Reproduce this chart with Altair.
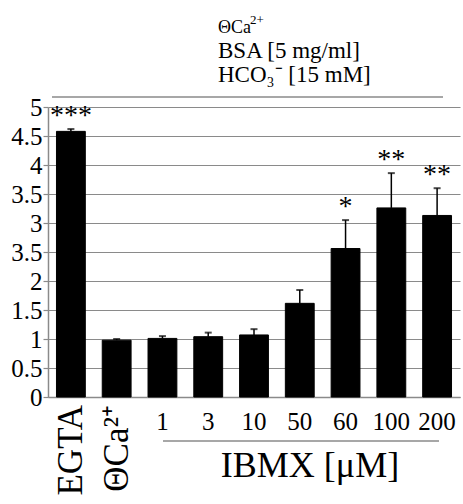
import altair as alt
import pandas as pd

categories = ["EGTA", "ΘCa²⁺", "1", "3", "10", "50", "60", "100", "200"]
means = [4.58, 0.98, 1.01, 1.04, 1.07, 1.615, 2.56, 3.26, 3.13]
err_hi = [4.62, 1.00, 1.05, 1.11, 1.17, 1.845, 3.05, 3.86, 3.60]
stars = ["***", "", "", "", "", "", "*", "**", "**"]
rotated = [True, True, False, False, False, False, False, False, False]
y_ticks = [0, 0.5, 1, 1.5, 2, 2.5, 3, 3.5, 4, 4.5, 5]
cond_lines = ["ΘCa", "BSA [5 mg/ml]", "HCO₃⁻ [15 mM]"]
cond_sup = ["2+"]
x_title = "IBMX [μM]"

FONT = "Liberation Serif, Times New Roman, serif"
GRAY = "#8a8a8a"
H = 290

df = pd.DataFrame({"cat": categories, "mean": means, "hi": err_hi,
                   "star": stars, "rot": rotated})

x_axis = alt.Axis(labels=False, ticks=False, title=None,
                  domainColor=GRAY, domainWidth=1.5)
x_scale = alt.Scale(domain=categories, paddingInner=0.37, paddingOuter=0.185)
y_axis = alt.Axis(values=y_ticks, title=None, grid=True,
                  gridColor=GRAY, gridWidth=1.2,
                  domainColor=GRAY, domainWidth=1.5,
                  tickColor=GRAY, tickSize=5, tickWidth=1.2,
                  labelFont=FONT, labelFontSize=25, labelColor="black",
                  labelPadding=1, format="",
                  labelExpr="datum.value == 2.5 ? '3.5' : datum.label")
y_scale = alt.Scale(domain=[0, 5], nice=False)


def X():
    return alt.X("cat:N", sort=categories, scale=x_scale, axis=x_axis)


def Y(field):
    return alt.Y(field, type="quantitative", scale=y_scale, axis=y_axis)


base = alt.Chart(df)

bars = base.mark_bar(color="black", stroke="black", strokeWidth=1).encode(x=X(), y=Y("mean"))
err = base.mark_rule(color="black", strokeWidth=1.5).encode(x=X(), y=Y("mean"), y2="hi:Q")
caps = base.mark_tick(color="black", size=7, thickness=2).encode(x=X(), y=Y("hi"))
star_txt = base.mark_text(font=FONT, fontSize=28, dy=-5, baseline="alphabetic",
                          color="black").encode(x=X(), y=Y("hi"), text="star:N")

hlabels = base.transform_filter("!datum.rot").mark_text(
    font=FONT, fontSize=25, baseline="alphabetic", color="black"
).encode(x=X(), y=alt.value(H + 33), text="cat:N")

rlabels = base.transform_filter("datum.rot").mark_text(
    font=FONT, fontSize=35, angle=270, align="right", baseline="middle", color="black"
).encode(x=X(), y=alt.value(H + 8), text="cat:N")

cond_df = pd.DataFrame({"t": cond_lines, "i": [0, 1, 2]})
cond1 = alt.Chart(cond_df).transform_filter("datum.i == 0").mark_text(
    font=FONT, fontSize=18, align="left", baseline="alphabetic", color="black"
).encode(x=alt.value(170), y=alt.value(-74), text="t:N")
sup_df = pd.DataFrame({"t": cond_sup})
cond1_sup = alt.Chart(sup_df).mark_text(
    font=FONT, fontSize=13, align="left", baseline="alphabetic", color="black"
).encode(x=alt.value(202), y=alt.value(-83), text="t:N")
cond2 = alt.Chart(cond_df).transform_filter("datum.i == 1").mark_text(
    font=FONT, fontSize=23, align="left", baseline="alphabetic", color="black"
).encode(x=alt.value(170), y=alt.value(-49), text="t:N")
cond3 = alt.Chart(cond_df).transform_filter("datum.i == 2").mark_text(
    font=FONT, fontSize=23, align="left", baseline="alphabetic", color="black"
).encode(x=alt.value(170), y=alt.value(-25), text="t:N")

top_rule = alt.Chart(cond_df).transform_filter("datum.i == 0").mark_rule(
    color=GRAY, strokeWidth=1.5
).encode(x=alt.value(4), x2=alt.value(395), y=alt.value(-10))

ibmx_rule = alt.Chart(cond_df).transform_filter("datum.i == 0").mark_rule(
    color=GRAY, strokeWidth=1.5
).encode(x=alt.value(115), x2=alt.value(391), y=alt.value(H + 44))

ibmx_df = pd.DataFrame({"t": [x_title]})
ibmx_txt = alt.Chart(ibmx_df).mark_text(
    font=FONT, fontSize=36, align="center", baseline="alphabetic", color="black"
).encode(x=alt.value(262), y=alt.value(H + 80), text="t:N")

chart = alt.layer(bars, err, caps, star_txt, hlabels, rlabels,
                  cond1, cond1_sup, cond2, cond3, top_rule, ibmx_rule, ibmx_txt).properties(
    width=412, height=H,
    autosize=alt.AutoSizeParams(type="none"),
    padding={"left": 48, "top": 107, "right": 3, "bottom": 107},
    background="white",
).configure_view(stroke=None)

chart.save("out.html", embed_options={"renderer": "svg", "actions": False})
